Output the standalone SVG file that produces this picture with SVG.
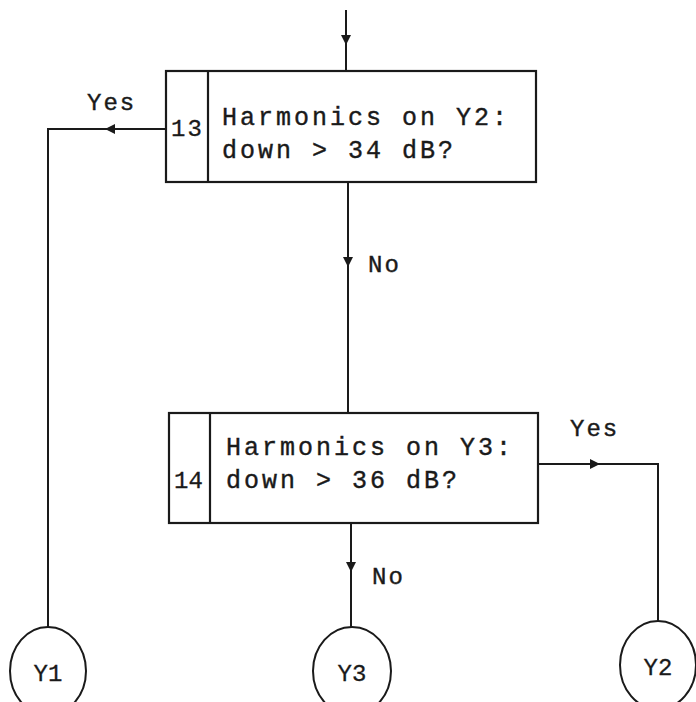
<svg xmlns="http://www.w3.org/2000/svg" width="696" height="702" viewBox="0 0 696 702">
<style>
.box{fill:none;stroke:#1a1a1a;stroke-width:2.2}
.ln{fill:none;stroke:#1a1a1a;stroke-width:2}
.t{font-family:"Liberation Mono","DejaVu Sans Mono",monospace;font-size:25px;letter-spacing:3px;fill:#1a1a1a;stroke:#1a1a1a;stroke-width:0.4}
.n{font-family:"Liberation Mono","DejaVu Sans Mono",monospace;font-size:24px;fill:#1a1a1a;stroke:#1a1a1a;stroke-width:0.3}
.lbl{font-family:"Liberation Mono","DejaVu Sans Mono",monospace;font-size:24px;letter-spacing:2px;fill:#1a1a1a;stroke:#1a1a1a;stroke-width:0.4}
</style>
<defs>
<path id="ah" d="M-5,-5 L5,-5 L0,5 Z" fill="#1a1a1a"/>
</defs>
<rect width="696" height="702" fill="#fff"/>
<g id="connectors">
<line class="ln" x1="346" y1="10" x2="346" y2="71"/>
<use href="#ah" x="346" y="40"/>
<polyline class="ln" points="166,129 48,129 48,627"/>
<use href="#ah" transform="translate(110,129) rotate(90)"/>
<text class="lbl" x="87" y="110">Yes</text>
<line class="ln" x1="348" y1="182" x2="348" y2="413"/>
<use href="#ah" x="348" y="262"/>
<text class="lbl" x="368" y="272">No</text>
<polyline class="ln" points="538,464 658,464 658,621"/>
<use href="#ah" transform="translate(595,464) rotate(-90)"/>
<text class="lbl" x="570" y="436">Yes</text>
<line class="ln" x1="351" y1="523" x2="351" y2="627"/>
<use href="#ah" x="351" y="567"/>
<text class="lbl" x="372" y="584">No</text>
</g>
<g id="n13">
<rect class="box" x="166" y="71" width="370" height="111"/>
<line class="box" x1="208" y1="71" x2="208" y2="182"/>
<text class="n" x="171" y="136" letter-spacing="2">13</text>
<text class="t" x="222" y="125">Harmonics on Y2:</text>
<text class="t" x="222" y="158">down &gt; 34 dB?</text>
</g>
<g id="n14">
<rect class="box" x="169" y="413" width="369" height="110"/>
<line class="box" x1="210" y1="413" x2="210" y2="523"/>
<text class="n" x="174" y="488">14</text>
<text class="t" x="226" y="455">Harmonics on Y3:</text>
<text class="t" x="226" y="488">down &gt; 36 dB?</text>
</g>
<g id="y1">
<ellipse class="ln" cx="48" cy="671" rx="38" ry="44"/>
<text class="n" x="48" y="681" text-anchor="middle">Y1</text>
</g>
<g id="y3">
<ellipse class="ln" cx="352" cy="671" rx="39" ry="44"/>
<text class="n" x="352" y="681" text-anchor="middle">Y3</text>
</g>
<g id="y2">
<ellipse class="ln" cx="658" cy="665" rx="38" ry="44"/>
<text class="n" x="658" y="675" text-anchor="middle">Y2</text>
</g>
</svg>
